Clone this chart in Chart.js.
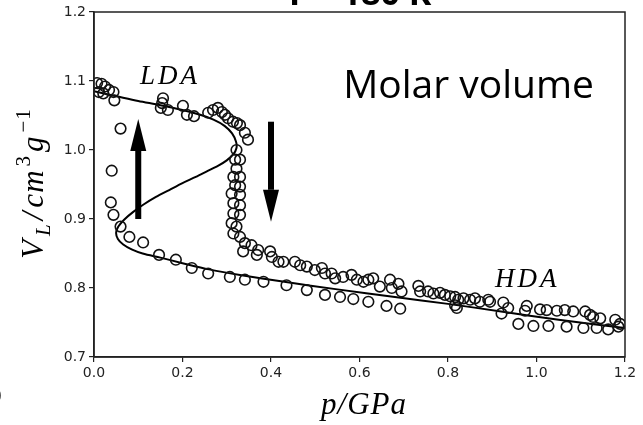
<!DOCTYPE html>
<html lang="en">
<head>
    <meta charset="UTF-8">
    <title>Molar volume</title>
    <script src="https://cdn.jsdelivr.net/npm/chart.js"></script>
    <style>
        html, body { margin: 0; padding: 0; background: #fff; }
        #wrap { width: 643px; height: 425px; }
    </style>
</head>
<body>
<div id="wrap"><canvas id="volChart"></canvas></div>
<script>
// measured points (p in GPa, V in cm^3/g)
const pointP = [
  0.007, 0.017, 0.025, 0.011, 0.021, 0.034, 0.044, 0.046, 0.060,
  0.156, 0.154, 0.151, 0.167, 0.201, 0.210, 0.226,
  0.258, 0.269, 0.280, 0.289, 0.296, 0.303, 0.314, 0.323, 0.330, 0.341, 0.348,
  0.322, 0.319, 0.330, 0.322, 0.315, 0.330, 0.319, 0.330, 0.311, 0.330,
  0.315, 0.330, 0.315, 0.330, 0.311, 0.322, 0.315, 0.330, 0.341, 0.337,
  0.356, 0.371, 0.368, 0.398, 0.402, 0.417, 0.428, 0.454, 0.466, 0.481,
  0.499, 0.515, 0.522, 0.537, 0.545, 0.563, 0.582, 0.594, 0.609, 0.620,
  0.631, 0.646, 0.669, 0.673, 0.688, 0.695, 0.733, 0.737, 0.755, 0.767,
  0.782, 0.793, 0.805, 0.816, 0.823, 0.835, 0.850, 0.861, 0.872, 0.891,
  0.895, 0.925, 0.936, 0.978, 0.974, 1.008, 1.023, 1.046, 1.064, 1.083,
  1.110, 1.121, 1.128, 1.144, 1.178, 1.189,
  0.040, 0.038, 0.044, 0.060, 0.080, 0.111, 0.147, 0.185, 0.221, 0.258,
  0.307, 0.341, 0.383, 0.435, 0.481, 0.522, 0.556, 0.586, 0.620, 0.661,
  0.692, 0.816, 0.820, 0.921, 0.959, 0.993, 1.027, 1.068, 1.106, 1.136,
  1.162, 1.185
];
const pointV = [
  1.097, 1.096, 1.092, 1.084, 1.082, 1.087, 1.084, 1.072, 1.031,
  1.075, 1.068, 1.061, 1.058, 1.064, 1.051, 1.049,
  1.054, 1.058, 1.061, 1.055, 1.051, 1.046, 1.041, 1.039, 1.036, 1.025, 1.015,
  1.000, 0.986, 0.986, 0.973, 0.961, 0.961, 0.949, 0.947, 0.937, 0.935,
  0.923, 0.920, 0.908, 0.906, 0.894, 0.889, 0.879, 0.874, 0.865, 0.853,
  0.862, 0.855, 0.848, 0.853, 0.845, 0.838, 0.838, 0.838, 0.833, 0.831,
  0.826, 0.829, 0.821, 0.821, 0.814, 0.816, 0.819, 0.812, 0.809, 0.812,
  0.814, 0.802, 0.812, 0.800, 0.806, 0.795, 0.803, 0.795, 0.795, 0.792,
  0.793, 0.790, 0.788, 0.787, 0.783, 0.785, 0.783, 0.785, 0.780, 0.783,
  0.780, 0.779, 0.771, 0.774, 0.767, 0.769, 0.768, 0.767, 0.768, 0.766,
  0.766, 0.761, 0.758, 0.756, 0.754, 0.748,
  0.970, 0.924, 0.906, 0.889, 0.874, 0.866, 0.848, 0.841, 0.829, 0.821,
  0.816, 0.812, 0.809, 0.804, 0.797, 0.790, 0.787, 0.784, 0.780, 0.774,
  0.770, 0.775, 0.771, 0.763, 0.748, 0.745, 0.745, 0.744, 0.742, 0.742,
  0.740, 0.744
];

// fitted S-shaped curve, read along its path
const curveP = [0.000, 0.050, 0.100, 0.150, 0.200, 0.240, 0.270, 0.295, 0.312, 0.321,
  0.322, 0.315, 0.300, 0.280, 0.255, 0.230, 0.200, 0.170, 0.140, 0.112,
  0.088, 0.068, 0.055, 0.050, 0.054, 0.066, 0.085, 0.110, 0.150, 0.200,
  0.260, 0.330, 0.430, 0.550, 0.680, 0.800, 0.920, 1.050, 1.200];
const curveV = [1.085, 1.078, 1.071, 1.065, 1.058, 1.051, 1.044, 1.035, 1.024, 1.012,
  1.003, 0.994, 0.985, 0.977, 0.969, 0.961, 0.952, 0.942, 0.932, 0.921,
  0.910, 0.899, 0.889, 0.880, 0.871, 0.863, 0.856, 0.850, 0.844, 0.836,
  0.827, 0.819, 0.809, 0.798, 0.787, 0.777, 0.766, 0.754, 0.742];

const xTicks = [0.0, 0.2, 0.4, 0.6, 0.8, 1.0, 1.2];
const yTicks = [0.7, 0.8, 0.9, 1.0, 1.1, 1.2];

// arrows: pressure, start volume, tip volume
const arrows = [
  { p: 0.10, from: 0.900, to: 1.045 },
  { p: 0.40, from: 1.041, to: 0.896 }
];
const labels = [
  { text: 'LDA', p: 0.104, v: 1.096 },
  { text: 'HDA', p: 0.906, v: 0.801 }
];

const scatterData = pointP.map((p, i) => ({ x: p, y: pointV[i] }));
const curveData = curveP.map((p, i) => ({ x: p, y: curveV[i] }));

const decorPlugin = {
  id: 'decor',
  afterDatasetsDraw(chart) {
    const ctx = chart.ctx;
    const a = chart.chartArea;
    const xs = chart.scales.x, ys = chart.scales.y;
    ctx.save();
    // frame
    ctx.strokeStyle = '#222';
    ctx.lineWidth = 1.5;
    ctx.strokeRect(a.left, a.top, a.right - a.left, a.bottom - a.top);

    // arrows
    ctx.fillStyle = '#000';
    arrows.forEach(ar => {
      const x = xs.getPixelForValue(ar.p);
      const y0 = ys.getPixelForValue(ar.from);
      const y1 = ys.getPixelForValue(ar.to);
      const dir = y1 < y0 ? -1 : 1;
      const headLen = 32, headW = 8;
      const yb = y1 - dir * headLen;
      ctx.fillRect(x - 3, Math.min(y0, yb), 6, Math.abs(yb - y0));
      ctx.beginPath();
      ctx.moveTo(x - headW, yb);
      ctx.lineTo(x + headW, yb);
      ctx.lineTo(x, y1);
      ctx.closePath();
      ctx.fill();
    });

    // phase labels
    ctx.font = 'italic 27px "Liberation Serif"';
    ctx.letterSpacing = '3px';
    ctx.textBaseline = 'alphabetic';
    ctx.textAlign = 'left';
    labels.forEach(l => {
      ctx.fillText(l.text, xs.getPixelForValue(l.p), ys.getPixelForValue(l.v));
    });
    ctx.letterSpacing = '0px';

    ctx.font = '39px "Open Sans"';
    ctx.fillText('Molar volume', xs.getPixelForValue(0.563), ys.getPixelForValue(1.075));

    // clipped title at the top edge
    ctx.font = 'bold 34px "Open Sans"';
    ctx.textAlign = 'center';
    ctx.fillText('T = 180 K', 358, 5);

    // leftover from neighbouring panel
    ctx.font = '22px "DejaVu Sans"';
    ctx.textAlign = 'left';
    ctx.fillText(')', -6, 402);

    // x title
    ctx.font = 'italic 31px "Liberation Serif"';
    ctx.letterSpacing = '1px';
    ctx.textAlign = 'center';
    ctx.fillText('p/GPa', 364, 414);
    ctx.letterSpacing = '0px';

    // y title with sub/superscripts
    const parts = [
      { t: 'V', f: 'italic 31px "Liberation Serif"', dy: 0 },
      { t: 'L', f: 'italic 21px "Liberation Serif"', dy: 7 },
      { t: '/', f: 'italic 31px "Liberation Serif"', dy: 0 },
      { t: 'cm', f: 'italic 31px "Liberation Serif"', dy: 0 },
      { t: '3', f: '21px "Liberation Serif"', dy: -13 },
      { t: 'g', f: 'italic 31px "Liberation Serif"', dy: 0 },
      { t: '\u22121', f: '21px "Liberation Serif"', dy: -13 }
    ];
    ctx.letterSpacing = '1px';
    let total = 0;
    parts.forEach(pt => { ctx.font = pt.f; pt.w = ctx.measureText(pt.t).width + 3; total += pt.w; });
    ctx.translate(43, 182);
    ctx.rotate(-Math.PI / 2);
    ctx.textAlign = 'left';
    let cx = -total / 2;
    parts.forEach(pt => {
      ctx.font = pt.f;
      ctx.fillText(pt.t, cx, pt.dy);
      cx += pt.w;
    });
    ctx.restore();
  }
};

const tickFont = { family: 'DejaVu Sans', size: 14 };

new Chart(document.getElementById('volChart'), {
  type: 'scatter',
  data: {
    datasets: [
      {
        label: 'data',
        data: scatterData,
        pointStyle: 'circle',
        pointRadius: 5.3,
        pointBorderWidth: 1.6,
        borderColor: '#111',
        backgroundColor: 'rgba(0,0,0,0)',
        showLine: false
      },
      {
        label: 'fit',
        data: curveData,
        showLine: true,
        tension: 0.3,
        borderColor: '#000',
        borderWidth: 2,
        pointRadius: 0,
        fill: false
      }
    ]
  },
  options: {
    responsive: true,
    maintainAspectRatio: false,
    animation: false,
    events: [],
    layout: { padding: { top: 12, right: 18, left: 0, bottom: 0 } },
    plugins: {
      legend: { display: false },
      tooltip: { enabled: false }
    },
    scales: {
      x: {
        type: 'linear',
        min: 0, max: 1.2,
        afterBuildTicks: s => { s.ticks = xTicks.map(v => ({ value: v })); },
        afterFit: s => { s.height = 68; },
        ticks: {
          color: '#222', font: tickFont, padding: 3,
          callback: v => v.toFixed(1)
        },
        grid: { display: true, drawOnChartArea: false, drawTicks: true, tickLength: 5, color: '#222', lineWidth: 1.2 },
        border: { display: true, color: '#222', width: 1.5 }
      },
      y: {
        type: 'linear',
        min: 0.7, max: 1.2,
        afterBuildTicks: s => { s.ticks = yTicks.map(v => ({ value: v })); },
        afterFit: s => { s.width = 94; },
        ticks: {
          color: '#222', font: tickFont, padding: 3,
          callback: v => v.toFixed(1)
        },
        grid: { display: true, drawOnChartArea: false, drawTicks: true, tickLength: 5, color: '#222', lineWidth: 1.2 },
        border: { display: true, color: '#222', width: 1.5 }
      }
    }
  },
  plugins: [decorPlugin]
});
</script>
</body>
</html>
